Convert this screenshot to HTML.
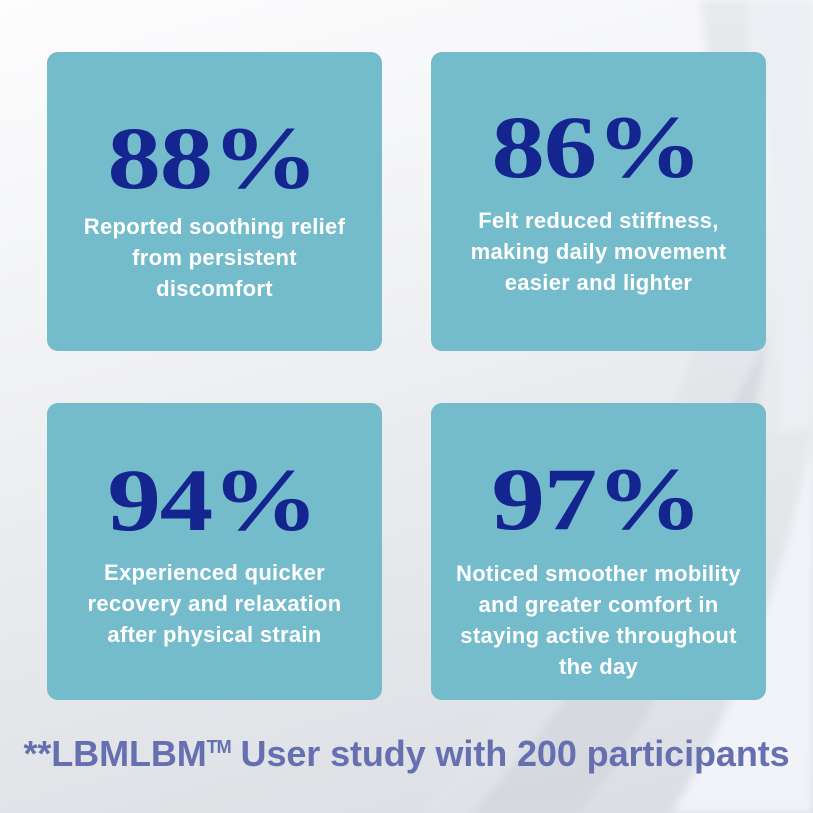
<!DOCTYPE html>
<html>
<head>
<meta charset="utf-8">
<style>
  html,body{margin:0;padding:0;}
  body{width:813px;height:813px;overflow:hidden;position:relative;
    background:linear-gradient(165deg,#fdfdfe 0%,#f1f2f4 35%,#e4e6ea 70%,#dadde2 100%);
    font-family:"Liberation Sans",Arial,sans-serif;}
  svg.bg{position:absolute;left:0;top:0;}
  .card{position:absolute;width:335px;background:#74bbcb;border-radius:11px;}
  .num{position:absolute;left:-2px;width:100%;text-align:center;
    font-family:"Liberation Serif","Times New Roman",serif;font-weight:bold;
    font-size:89px;line-height:89px;color:#15258f;letter-spacing:-1px;
    transform:scaleX(1.2);transform-origin:50% 50%;}
  .sub{position:absolute;left:0;width:100%;text-align:center;color:#fff;
    font-weight:bold;font-size:22px;line-height:31px;letter-spacing:0.3px;}
  .foot{position:absolute;left:0;width:813px;top:727px;text-align:center;
    font-weight:bold;font-size:36px;line-height:40px;color:#6670b0;letter-spacing:-0.1px;}
  .foot .tm{font-size:18px;vertical-align:13px;letter-spacing:-1px;}
</style>
</head>
<body>
<svg class="bg" width="813" height="813" viewBox="0 0 813 813">
  <defs>
    <filter id="b" x="-20%" y="-20%" width="140%" height="140%"><feGaussianBlur stdDeviation="4"/></filter>
  </defs>
  <path d="M748,0 C772,140 790,300 778,430 L813,430 L813,0 Z" fill="#eceef3" filter="url(#b)"/>
  <path d="M700,0 L748,0 C760,120 765,230 760,330 C740,520 660,680 575,813 L420,813 C530,690 640,520 700,330 C720,220 715,110 700,0 Z" fill="#e1e4e8" opacity="0.7" filter="url(#b)"/>
  <path d="M770,330 C740,520 680,690 580,813 L470,813 C560,720 640,600 700,470 C730,410 755,360 770,330 Z" fill="#d2d6dc" opacity="0.7" filter="url(#b)"/>
  <path d="M813,430 C790,560 740,700 672,813 L813,813 Z" fill="#f1f3f8" filter="url(#b)"/>
</svg>

<div class="card" style="left:47px;top:52px;height:299px;">
  <div class="num" style="top:63px;">88%</div>
  <div class="sub" style="top:159px;">Reported soothing relief<br>from persistent<br>discomfort</div>
</div>

<div class="card" style="left:431px;top:52px;height:299px;">
  <div class="num" style="top:52px;">86%</div>
  <div class="sub" style="top:153px;">Felt reduced stiffness,<br>making daily movement<br>easier and lighter</div>
</div>

<div class="card" style="left:47px;top:403px;height:297px;">
  <div class="num" style="top:54px;">94%</div>
  <div class="sub" style="top:154px;">Experienced quicker<br>recovery and relaxation<br>after physical strain</div>
</div>

<div class="card" style="left:431px;top:403px;height:297px;">
  <div class="num" style="top:53px;">97%</div>
  <div class="sub" style="top:155px;">Noticed smoother mobility<br>and greater comfort in<br>staying active throughout<br>the day</div>
</div>

<div class="foot">**LBMLBM<span class="tm">TM</span> User study with 200 participants</div>
</body>
</html>
